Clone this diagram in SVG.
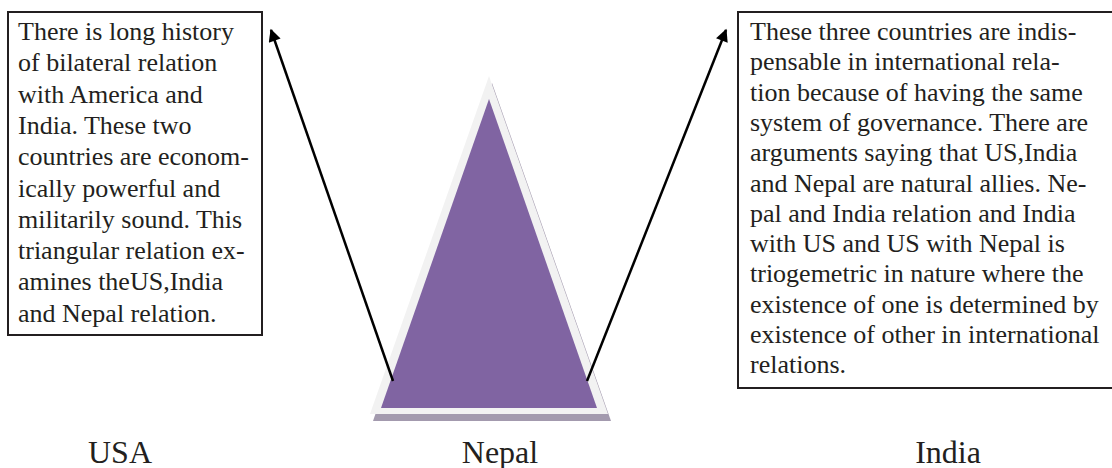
<svg xmlns="http://www.w3.org/2000/svg" width="1112" height="468" viewBox="0 0 1112 468">
<defs>
<style>
.t{font-family:"Liberation Serif","Times New Roman",serif;font-size:26px;fill:#231f20}
.lbl{font-family:"Liberation Serif","Times New Roman",serif;font-size:32px;fill:#231f20;text-anchor:middle}
.box{fill:#fff;stroke:#231f20;stroke-width:2}
.conn{stroke:#000;stroke-width:2.5;fill:none;marker-end:url(#ah)}
</style>
<marker id="ah" viewBox="0 0 10 10" refX="9" refY="5" markerWidth="5.5" markerHeight="5" orient="auto" markerUnits="strokeWidth">
<path d="M0,0 L10,5 L0,10 Z" fill="#000"/>
</marker>
</defs>
<rect width="1112" height="468" fill="#fff"/>
<g id="nepal-triangle">
<polygon points="492,83 373,421 611,421" fill="#a39aae"/>
<polygon points="489,76 370,414 608,414" fill="#f2f2f2"/>
<polygon points="489,99 381,408 597,408" fill="#8064a2"/>
</g>
<g id="connectors">
<line class="conn" x1="393" y1="381" x2="271" y2="30"/>
<line class="conn" x1="587" y1="381" x2="726" y2="30"/>
</g>
<g id="left-box">
<rect class="box" x="8" y="12" width="254" height="323"/>
<text class="t" x="18">
<tspan x="18" y="40">There is long history</tspan>
<tspan x="18" y="71.3">of bilateral relation</tspan>
<tspan x="18" y="102.6">with America and</tspan>
<tspan x="18" y="133.9">India. These two</tspan>
<tspan x="18" y="165.2">countries are econom-</tspan>
<tspan x="18" y="196.5">ically powerful and</tspan>
<tspan x="18" y="227.8">militarily sound. This</tspan>
<tspan x="18" y="259.1">triangular relation ex-</tspan>
<tspan x="18" y="290.4">amines theUS,India</tspan>
<tspan x="18" y="321.7">and Nepal relation.</tspan>
</text>
</g>
<g id="right-box">
<rect class="box" x="738" y="12" width="376" height="376"/>
<text class="t">
<tspan x="750" y="40">These three countries are indis-</tspan>
<tspan x="750" y="70.3">pensable in international rela-</tspan>
<tspan x="750" y="100.6">tion because of having the same</tspan>
<tspan x="750" y="130.9">system of governance. There are</tspan>
<tspan x="750" y="161.2">arguments saying that US,India</tspan>
<tspan x="750" y="191.5">and Nepal are natural allies. Ne-</tspan>
<tspan x="750" y="221.8">pal and India relation and India</tspan>
<tspan x="750" y="252.1">with US and US with Nepal is</tspan>
<tspan x="750" y="282.4">triogemetric in nature where the</tspan>
<tspan x="750" y="312.7">existence of one is determined by</tspan>
<tspan x="750" y="343">existence of other in international</tspan>
<tspan x="750" y="373.3">relations.</tspan>
</text>
</g>
<g id="label-usa"><text class="lbl" x="120" y="463">USA</text></g>
<g id="label-nepal"><text class="lbl" x="500" y="463">Nepal</text></g>
<g id="label-india"><text class="lbl" x="948" y="463">India</text></g>
</svg>
